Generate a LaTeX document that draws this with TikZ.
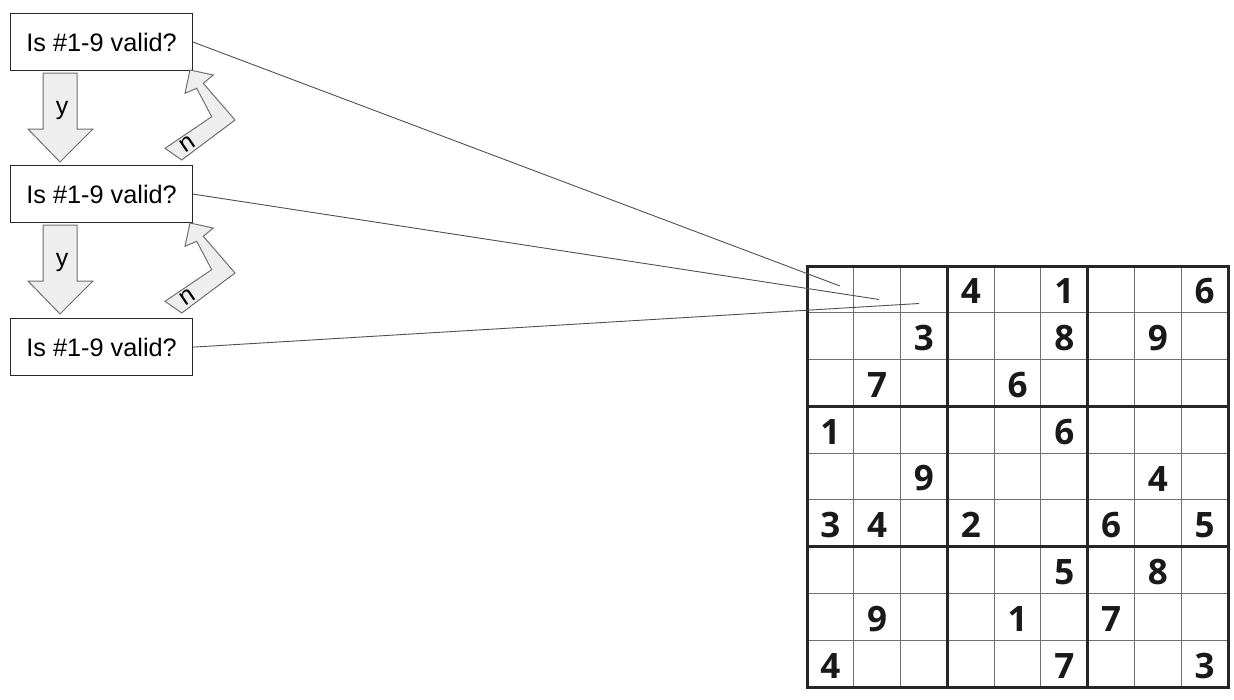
\documentclass[tikz,border=0pt]{standalone}
\usepackage{fontspec}
\setmainfont{Liberation Sans}
\newfontfamily\digitfont{Open Sans}[UprightFont=* Bold]
\definecolor{arrowfill}{HTML}{EEEEEE}
\definecolor{arrowline}{HTML}{707070}
\definecolor{linkline}{HTML}{505050}
\definecolor{thingrid}{HTML}{707070}
\begin{document}
\begin{tikzpicture}[x=1pt,y=-1pt,
  qbox/.style={draw=black!85,line width=1.2pt,minimum width=182pt,minimum height=57pt,inner sep=0pt,
    font=\fontsize{25.3}{28}\selectfont,anchor=north west},
  blockarrow/.style={fill=arrowfill,draw=arrowline,line width=1pt,line join=miter},
  link/.style={draw=linkline,line width=0.9pt},
  lbl/.style={font=\fontsize{25}{28}\selectfont,inner sep=0pt},
  digit/.style={font=\digitfont\fontsize{35}{37}\selectfont,inner sep=0pt,text=black!90}
]
\useasboundingbox (0,0) rectangle (1234,699);

% question boxes
\node[qbox] (q1) at (10,13) {Is \#1-9 valid?};
\node[qbox] (q2) at (10,165) {Is \#1-9 valid?};
\node[qbox] (q3) at (10,318) {Is \#1-9 valid?};

% down arrows (y)
\foreach \dy/\nm in {0/ya,152/yb}{
  \draw[blockarrow] (43,73+\dy) -- (77,73+\dy) -- (77,129+\dy) -- (93,129+\dy) -- (60,162+\dy)
     -- (28,129+\dy) -- (43,129+\dy) -- cycle;
  \node[lbl] (\nm) at (62,110+\dy) {y};
}

% bent arrows (n)
\foreach \dy/\nm in {0/na,153/nb}{
  \draw[blockarrow] (190,70+\dy) -- (213.3,75+\dy) -- (203.3,83.3+\dy) -- (235,120+\dy)
     -- (181.7,160+\dy) -- (165,148.3+\dy) -- (211.7,116.7+\dy) -- (196.7,88.3+\dy)
     -- (185,93.3+\dy) -- cycle;
  \node[lbl,rotate=34] (\nm) at (187,144+\dy) {n};
}

% sudoku grid
\def\gx{807}\def\gy{266}\def\cs{46.78}
\foreach \i in {1,2,4,5,7,8}{
  \draw[thingrid,line width=1.1pt] (\gx+\i*\cs,\gy) -- (\gx+\i*\cs,\gy+9*\cs);
  \draw[thingrid,line width=1.1pt] (\gx,\gy+\i*\cs) -- (\gx+9*\cs,\gy+\i*\cs);
}
\foreach \i in {3,6}{
  \draw[black!85,line width=2.6pt] (\gx+\i*\cs,\gy) -- (\gx+\i*\cs,\gy+9*\cs);
  \draw[black!85,line width=2.6pt] (\gx,\gy+\i*\cs) -- (\gx+9*\cs,\gy+\i*\cs);
}
\draw[black!85,line width=3pt] (\gx,\gy) rectangle (\gx+9*\cs,\gy+9*\cs);

\foreach \r/\c/\d in {
  1/4/4,1/6/1,1/9/6,
  2/3/3,2/6/8,2/8/9,
  3/2/7,3/5/6,
  4/1/1,4/6/6,
  5/3/9,5/8/4,
  6/1/3,6/2/4,6/4/2,6/7/6,6/9/5,
  7/6/5,7/8/8,
  8/2/9,8/5/1,8/7/7,
  9/1/4,9/6/7,9/9/3}{
  \node[digit] (d\r\c) at (\gx+\c*\cs-0.5*\cs,\gy+\r*\cs-0.5*\cs+2) {\d};
}

% link endpoints in the grid
\coordinate (e1) at (840,286);
\coordinate (e2) at (879,299.5);
\coordinate (e3) at (919,303.5);
\draw[link] (q1.east) -- (e1);
\draw[link] (q2.east) -- (e2);
\draw[link] (q3.east) -- (e3);
\end{tikzpicture}
\end{document}
